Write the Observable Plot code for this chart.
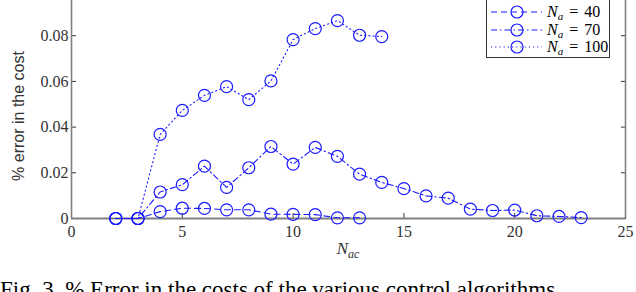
<!DOCTYPE html>
<html>
<head>
<meta charset="utf-8">
<script src="https://cdn.jsdelivr.net/npm/d3@7"></script>
<script src="https://cdn.jsdelivr.net/npm/@observablehq/plot@0.6"></script>
<style>
  html, body { margin: 0; padding: 0; background: #fff; }
  #wrap { position: relative; width: 636px; height: 292px; overflow: hidden; }
  #legend { position: absolute; left: 486px; top: -2px; width: 124px; height: 60px;
    border: 1px solid #333; background: #fff; box-sizing: border-box; }
  .lrow { position: absolute; left: 0; height: 18px; width: 124px; }
  .lrow svg { position: absolute; left: 3px; top: 0; }
  .lrow span { position: absolute; left: 60px; top: 0; font: 16px "Liberation Serif", serif; color: #000; line-height: 18px; white-space: nowrap; word-spacing: 2px; }
  .lrow sub { font-size: 11px; vertical-align: -3px; line-height: 0; }
  #caption { position: absolute; left: 0; top: 278px; font: 23px "Liberation Serif", serif; white-space: nowrap; color: #000; line-height: 24px; }
</style>
</head>
<body>
<div id="wrap">
  <div id="chart"></div>
  <div id="legend"></div>
  <div id="caption">Fig. 3. % Error in the costs of the various control algorithms</div>
</div>
<script>
const seriesNames = ["Na = 40", "Na = 70", "Na = 100"];
const legendValues = ["40", "70", "100"];
const xNa40 = [2, 3, 4, 5, 6, 7, 8, 9, 10, 11, 12, 13];
const yNa40 = [0, 0, 0.0030, 0.0045, 0.0044, 0.0038, 0.0038, 0.0019, 0.0018, 0.0017, 0.0003, 0.0003];
const xNa70 = [2, 3, 4, 5, 6, 7, 8, 9, 10, 11, 12, 13, 14, 15, 16, 17, 18, 19, 20, 21, 22, 23];
const yNa70 = [0, 0, 0.0116, 0.0148, 0.0229, 0.0136, 0.0222, 0.0315, 0.0238, 0.0311, 0.0272, 0.0194, 0.0158, 0.0131, 0.0099, 0.0089, 0.0041, 0.0035, 0.0037, 0.0012, 0.0009, 0.0004];
const xNa100 = [2, 3, 4, 5, 6, 7, 8, 9, 10, 11, 12, 13, 14];
const yNa100 = [0, 0, 0.0368, 0.0473, 0.0539, 0.0577, 0.0520, 0.0602, 0.0783, 0.0831, 0.0866, 0.0802, 0.0796];
const xTicks = [0, 5, 10, 15, 20, 25];
const xTickLabels = ["0", "5", "10", "15", "20", "25"];
const yTicks = [0, 0.02, 0.04, 0.06, 0.08];
const yTickLabels = ["0", "0.02", "0.04", "0.06", "0.08"];

const dashes = ["6,4", "6,3,1.5,3", "1.2,3"];
const blue = "#1a1aff";

const toRows = (xs, ys, s) => xs.map((x, i) => ({x, y: ys[i], s}));
const series = [
  toRows(xNa40, yNa40, seriesNames[0]),
  toRows(xNa70, yNa70, seriesNames[1]),
  toRows(xNa100, yNa100, seriesNames[2])
];

const axisColor = "#808080";
const serif = "Liberation Serif";

const marks = [];
series.forEach((rows, i) => {
  marks.push(Plot.line(rows, {x: "x", y: "y", stroke: blue, strokeWidth: 1.1, strokeDasharray: dashes[i]}));
  marks.push(Plot.dot(rows, {x: "x", y: "y", r: 6, stroke: blue, strokeWidth: 1.2, fill: "none"}));
});

const tickOnly = {tickSize: -5, stroke: "#333", strokeWidth: 1, label: null, fill: "none", fontSize: 0, tickFormat: () => " "};

const plot = Plot.plot({
  width: 636,
  height: 266,
  marginTop: 0,
  marginBottom: 48,
  marginLeft: 71,
  marginRight: 11,
  style: {background: "transparent", overflow: "visible"},
  x: {domain: [0, 25], label: null, axis: null},
  y: {domain: [0, 0.0954], label: null, axis: null},
  marks: [
    Plot.axisY({ticks: yTicks, ...tickOnly}),
    Plot.axisY({anchor: "right", ticks: yTicks, ...tickOnly}),
    Plot.axisX({ticks: xTicks, ...tickOnly}),
    Plot.text(xTicks, {x: d => d, frameAnchor: "bottom", dy: 18, text: (d, i) => xTickLabels[i], fill: "#333", fontSize: 16, fontFamily: serif}),
    Plot.text(yTicks, {y: d => d, frameAnchor: "left", dx: -3, textAnchor: "end", text: (d, i) => yTickLabels[i], fill: "#333", fontSize: 16, fontFamily: serif}),
    Plot.ruleX([0, 25], {stroke: axisColor, strokeWidth: 1.6}),
    Plot.ruleY([0], {stroke: axisColor, strokeWidth: 2}),
    ...marks
  ]
});
document.getElementById("chart").appendChild(plot);

const svg = d3.select(plot);
// remove any default-font labels drawn by the tick-only axes
svg.selectAll('g[aria-label$="tick label"]').remove();
svg.selectAll('g[aria-label="text"] text')
  .attr("font-family", serif).style("font-family", serif).style("font-size", "16px");
svg.append("text")
  .attr("transform", "translate(24,116) rotate(-90)")
  .attr("text-anchor", "middle")
  .style("font", "16px 'Liberation Sans', sans-serif")
  .attr("fill", "#333")
  .text("% error in the cost");
const xl = svg.append("text")
  .attr("x", 348).attr("y", 254)
  .attr("text-anchor", "middle")
  .style("font", "italic 17px 'Liberation Serif', serif")
  .attr("fill", "#333");
xl.append("tspan").text("N");
xl.append("tspan").attr("dy", 4).style("font-size", "12px").text("ac");

const legend = document.getElementById("legend");
legendValues.forEach((v, i) => {
  const row = document.createElement("div");
  row.className = "lrow";
  row.style.top = (4 + i * 17.7) + "px";
  row.innerHTML = `<svg width="56" height="18"><line x1="1" x2="52" y1="9" y2="9" stroke="${blue}" stroke-width="1.1" stroke-dasharray="${dashes[i]}"/><circle cx="27" cy="9" r="6" fill="none" stroke="${blue}" stroke-width="1.2"/></svg><span><i>N</i><sub><i>a</i></sub> = ${v}</span>`;
  legend.appendChild(row);
});
</script>
</body>
</html>
